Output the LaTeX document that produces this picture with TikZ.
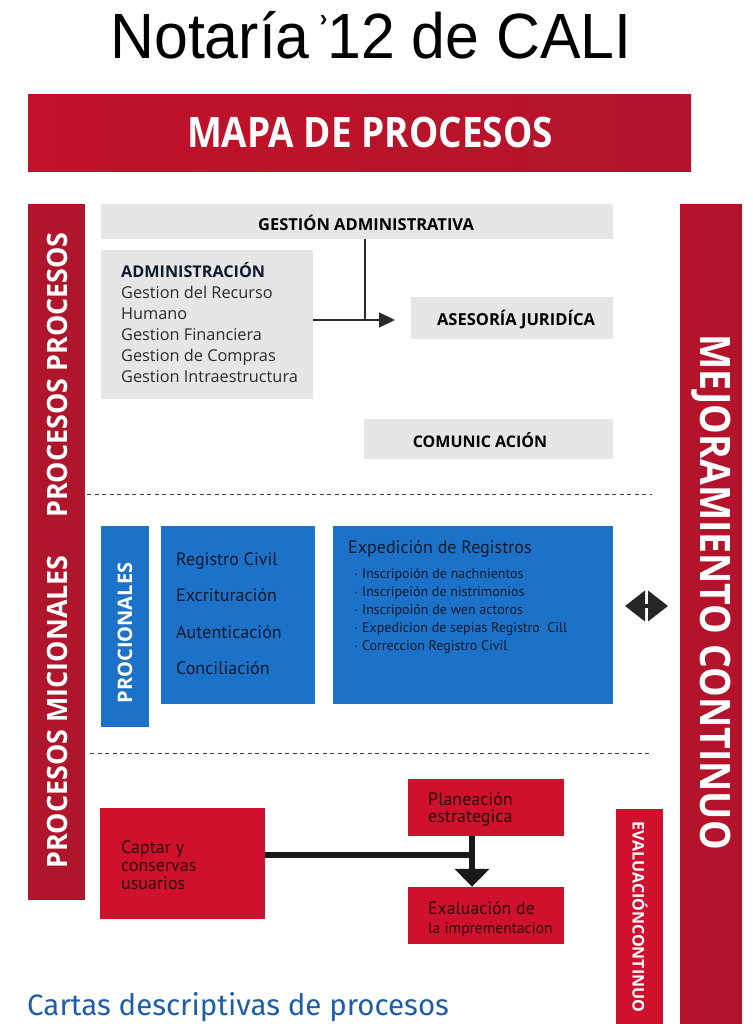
\documentclass[tikz,border=0pt]{standalone}
\usepackage{fontspec}
\setmainfont{Open Sans}
\newfontfamily\titlefont{Liberation Sans}
\newfontfamily\ptsans{PT Sans}
\newfontfamily\fira{Fira Sans}
\usetikzlibrary{arrows.meta}
\definecolor{banred}{HTML}{B3142B}
\definecolor{banredL}{HTML}{C0122A}
\definecolor{barred}{HTML}{B0162B}
\definecolor{boxred}{HTML}{D0112E}
\definecolor{gbox}{HTML}{E6E6E6}
\definecolor{bblue}{HTML}{1C72C8}
\definecolor{navy}{HTML}{0E1A2B}
\definecolor{dtext}{HTML}{2B2B2B}
\definecolor{rtext}{HTML}{2A0608}
\definecolor{cblue}{HTML}{1F5DA8}
\tikzset{
  graybox/.style={fill=gbox, draw=none},
  bluebox/.style={fill=bblue, draw=none},
  redbox/.style={fill=boxred, draw=none},
  lbl/.style={inner sep=0pt, anchor=base west},
  thinarrow/.style={draw=dtext, line width=1.4pt, -{Triangle[length=16pt,width=15pt]}},
  thickarrow/.style={draw=black!90, line width=6pt, -{Triangle[length=18pt,width=34pt]}},
  dashline/.style={draw=black!75, line width=0.9pt, dash pattern=on 4pt off 3.5pt},
}
\begin{document}
\begin{tikzpicture}[x=1pt,y=-1pt]
\useasboundingbox (0,0) rectangle (752,1024);
% title
\node[inner sep=0pt, anchor=base] (title) at (371,59) {\titlefont\fontsize{64}{66}\selectfont\scalebox{0.95}[1]{Notaría\,\raisebox{0.5em}{\fontsize{24}{24}\selectfont\bfseries›}12 de CALI}};
% banner
\shade[left color=banredL, right color=banred] (28,95) rectangle (691,172);
\node[inner sep=0pt, anchor=base, text=white] (mapa) at (370,148) {\fontsize{42}{44}\selectfont\bfseries\scalebox{0.88}[1]{MAPA DE PROCESOS}};
% left bar
\fill[barred] (28,204) rectangle (85,900);
\node[inner sep=0pt, rotate=90, text=white] (lb1) at (57,712) {\fontsize{28}{28}\selectfont\bfseries\scalebox{0.96}[1]{PROCESOS MICIONALES}};
\node[inner sep=0pt, rotate=90, text=white] (lb2) at (57,375) {\fontsize{28}{28}\selectfont\bfseries\scalebox{0.96}[1]{PROCESOS PROCESOS}};
% right bar
\fill[banred] (680,204) rectangle (742,1024);
\node[inner sep=0pt, rotate=-90, text=white] (rb) at (711,592) {\fontsize{42}{42}\selectfont\bfseries\scalebox{0.89}[1]{MEJORAMIENTO CONTINUO}};
% top section
\path[graybox] (101,204) rectangle (613,239);
\node[inner sep=0pt, text=black] (gest) at (366,223) {\fontsize{16.5}{17}\selectfont\bfseries GESTIÓN ADMINISTRATIVA};
\path[graybox] (101,250) rectangle (313,399);
\node[lbl, text=navy] (adm) at (121,277) {\fontsize{16.2}{16}\selectfont\bfseries ADMINISTRACIÓN};
\node[lbl, text=dtext] at (121,298) {\fontsize{16.3}{16}\selectfont Gestion del Recurso};
\node[lbl, text=dtext] at (121,319) {\fontsize{16.3}{16}\selectfont Humano};
\node[lbl, text=dtext] at (121,340) {\fontsize{16.3}{16}\selectfont Gestion Financiera};
\node[lbl, text=dtext] at (121,361) {\fontsize{16.3}{16}\selectfont Gestion de Compras};
\node[lbl, text=dtext] at (121,382) {\fontsize{16.3}{16}\selectfont Gestion Intraestructura};
\coordinate (admR) at (313,320);
\coordinate (gestB) at (365,239);
\coordinate (junc) at (365,320);
\coordinate (arrT) at (395,320);
\draw[draw=dtext, line width=1.4pt] (gestB) -- (junc);
\draw[thinarrow] (admR) -- (arrT);
\path[graybox] (411,297) rectangle (613,339);
\node[inner sep=0pt, text=black] (ases) at (516,320) {\fontsize{16.5}{17}\selectfont\bfseries ASESORÍA JURIDÍCA};
\path[graybox] (364,419) rectangle (613,459);
\node[inner sep=0pt, text=black] (comu) at (480,440) {\fontsize{16}{17}\selectfont\bfseries COMUNIC ACIÓN};
\draw[dashline] (87,494) -- (652,494);
% middle section
\path[bluebox] (101,526) rectangle (149,727);
\node[inner sep=0pt, rotate=90, text=white] (proc) at (125,633) {\fontsize{20}{20}\selectfont\bfseries PROCIONALES};
\path[bluebox] (161,526) rectangle (315,704);
\node[lbl, text=navy] (rc) at (176,565) {\ptsans\fontsize{18}{18}\selectfont Registro Civil};
\node[lbl, text=navy] at (176,601) {\ptsans\fontsize{18}{18}\selectfont Excrituración};
\node[lbl, text=navy] at (176,638) {\ptsans\fontsize{18}{18}\selectfont Autenticación};
\node[lbl, text=navy] at (176,674) {\ptsans\fontsize{18}{18}\selectfont Conciliación};
\path[bluebox] (333,526) rectangle (613,704);
\node[lbl, text=navy] (exp) at (348,553) {\ptsans\fontsize{18}{18}\selectfont Expedición de Registros};
\node[lbl, text=navy] at (354,578) {\ptsans\fontsize{14}{14}\selectfont $\cdot$\hspace{4pt}Inscripoión de nachnientos};
\node[lbl, text=navy] at (354,596) {\ptsans\fontsize{14}{14}\selectfont $\cdot$\hspace{4pt}Inscripeión de nistrimonios};
\node[lbl, text=navy] at (354,614) {\ptsans\fontsize{14}{14}\selectfont $\cdot$\hspace{4pt}Inscripoión de wen actoros};
\node[lbl, text=navy] at (354,632) {\ptsans\fontsize{14}{14}\selectfont $\cdot$\hspace{4pt}Expedicion de sepias Registro\ \ Cill};
\node[lbl, text=navy] at (354,650) {\ptsans\fontsize{14}{14}\selectfont $\cdot$\hspace{4pt}Correccion Registro Civil};
\coordinate (dl) at (625,606);
\coordinate (dr) at (668,606);
\draw[draw=black!85, line width=4pt, {Triangle[length=20pt,width=30pt]}-{Triangle[length=20pt,width=30pt]}] (dl) -- (dr);
\draw[dashline] (90,753) -- (652,753);
% bottom section
\node[redbox, minimum width=165pt, minimum height=111pt, inner sep=0pt] (cap) at (182.5,863.5) {};
\node[lbl, text=rtext] at (121,853) {\ptsans\fontsize{18}{18}\selectfont Captar y};
\node[lbl, text=rtext] at (121,871) {\ptsans\fontsize{18}{18}\selectfont conservas};
\node[lbl, text=rtext] at (121,889) {\ptsans\fontsize{18}{18}\selectfont usuarios};
\node[redbox, minimum width=156pt, minimum height=57pt, inner sep=0pt] (plan) at (486,807.5) {};
\node[lbl, text=rtext] at (428,805) {\ptsans\fontsize{18}{18}\selectfont Planeación};
\node[lbl, text=rtext] at (428,822) {\ptsans\fontsize{18}{18}\selectfont estrategica};
\node[redbox, minimum width=156pt, minimum height=57pt, inner sep=0pt] (eval) at (486,915.5) {};
\node[lbl, text=rtext] at (428,914) {\ptsans\fontsize{17.8}{18}\selectfont Exaluación de};
\node[lbl, text=rtext] at (428,933) {\ptsans\fontsize{15.5}{16}\selectfont la imprementacion};
\coordinate (jc) at (472,855);
\draw[draw=black!90, line width=6pt] (cap.east |- jc) -- ([xshift=3pt]jc);
\draw[thickarrow] (plan.south -| jc) -- (eval.north -| jc);
% narrow bar
\fill[boxred] (616,809) rectangle (663,1024);
\node[inner sep=0pt, rotate=-90, text=white] (evc) at (640,917) {\fontsize{16}{16}\selectfont\bfseries EVALUACIÓNCONTINUO};
% footer
\node[inner sep=0pt, anchor=base west, text=cblue] (cartas) at (27,1015) {\fira\fontsize{29.5}{30}\selectfont Cartas descriptivas de procesos};
\end{tikzpicture}
\end{document}
